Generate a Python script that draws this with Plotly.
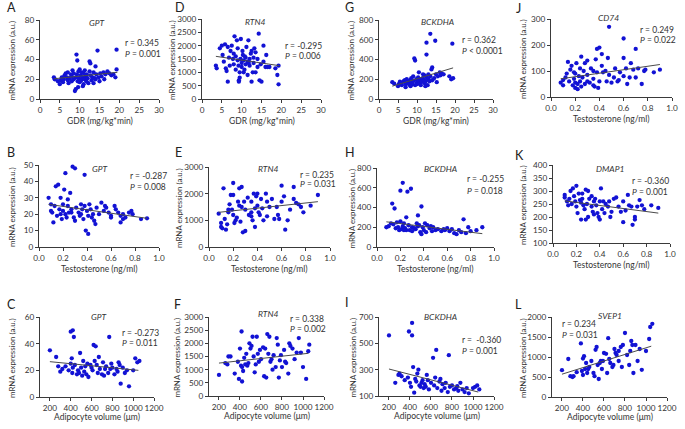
import plotly.graph_objects as go

W, H = 685, 429
FONT = "Lato"
DOT = "#1212d4"
AX = "#3a3a3a"

# ---------------- data ----------------
# A: GDR vs GPT
A_pts = [(3.5,22),(3.7,20),(4.5,18),(5,15),(5.2,19),(5.5,22),(5.8,17),(6,20),(6.2,24),(6.5,26),(6.8,22),(7,19),(7,27),(7.2,16),
         (7.5,21),(7.8,25),(8,23),(8,18),(8.2,29),(8.5,20),(8.5,26),(8.8,8),(9,10),(9,22),(9.2,45),(9.3,25),(9.4,39),(9.5,18),
         (9.6,12),(9.7,28),(9.8,21),(10,30),(10,17),(10.2,24),(10.4,19),(10.5,27),(10.7,22),(11,15),(11,26),(11.2,20),(11.5,23),
         (11.7,18),(11.8,25),(12,21),(12.2,16),(12.5,38),(12.5,28),(12.7,36),(12.8,24),(13,19),(13.2,22),(13.5,16),(13.5,27),
         (14,33),(14,20),(14.2,25),(14.5,49),(14.8,22),(15,18),(15.2,26),(15.5,23),(16,27),(16.2,20),(16.5,25),(17,28),(17.5,26),
         (18,24),(18.5,25),(19,22),(19.3,30),(19.3,50),(11.3,29),(10.8,13),(13.8,21)]
A_fit_x, A_fit_y = [3.5, 19.5], [20.5, 27]

# D: GDR vs RTN4
D_pts = [(3.5,1250),(3.7,1150),(4.5,1900),(5,2000),(5.2,1650),(5.5,1400),(5.8,2050),(6,1150),(6.2,1050),(6.5,650),(6.5,1950),
         (6.8,1550),(7,1250),(7.2,1800),(7.5,2000),(7.8,1500),(8,1300),(8,1700),(8.2,2350),(8.5,1600),(8.5,1100),(8.8,2200),
         (9,1900),(9,1450),(9.2,1250),(9.3,700),(9.3,650),(9.5,800),(9.5,1000),(9.7,1500),(9.8,2250),(10,1350),(10,1200),
         (10.2,1800),(10.3,1650),(10.5,1450),(10.5,1000),(10.7,1100),(11,1550),(11,1300),(11.2,1950),(11.5,900),(11.5,1400),
         (11.7,2200),(12,1500),(12,1250),(12.3,1700),(12.5,650),(12.5,1800),(12.8,1000),(13,1550),(13,1350),(13.2,1900),
         (13.5,1000),(13.5,1750),(14,1200),(14,1500),(14.3,2450),(14.5,700),(14.8,1300),(15,650),(15.5,2000),(15.5,1400),
         (16,1200),(16.2,1650),(16.5,1200),(17,1200),(18.5,1150),(19,900),(19.3,1250),(19.3,550),(11.8,1350),(10.8,1600)]
D_fit_x, D_fit_y = [3.5, 19.5], [1600, 1250]

# G: GDR vs BCKDHA
G_pts = [(3.5,170),(4,155),(5,130),(5.2,150),(5.5,175),(6,165),(6,140),(6.5,180),(7,150),(7,120),(7.3,200),(7.5,160),(7.8,175),
         (8,145),(8.2,190),(8.5,210),(8.5,165),(8.8,150),(9,180),(9,230),(9.3,410),(9.5,390),(9.5,140),(9.8,200),(10,170),
         (10,150),(10.3,220),(10.5,185),(10.5,270),(10.8,160),(11,200),(11,140),(11.3,175),(11.5,210),(11.8,190),(12,240),
         (12,160),(12.3,180),(12.5,570),(12.5,450),(12.5,220),(12.8,140),(13,200),(13,250),(13.3,180),(13.5,660),(13.5,230),
         (13.8,300),(14,320),(14,190),(14.5,210),(14.8,590),(15,250),(15.2,170),(15.5,230),(16,270),(16.2,240),(16.5,260),
         (17,250),(18.5,230),(19,200),(19.3,560),(19.5,210),(12.2,130),(11.6,250),(8.3,130),(6.8,190)]
G_fit_x, G_fit_y = [3.5, 19.5], [130, 315]

# J: Testosterone vs CD74
J_pts = [(0.08,55),(0.1,45),(0.1,65),(0.12,75),(0.13,90),(0.14,135),(0.15,60),(0.16,105),(0.17,120),(0.18,45),(0.19,70),(0.2,35),
         (0.2,55),(0.2,90),(0.21,130),(0.22,30),(0.22,50),(0.23,80),(0.24,110),(0.24,60),(0.25,155),(0.25,40),(0.26,75),(0.27,100),
         (0.28,50),(0.28,130),(0.3,85),(0.3,60),(0.32,55),(0.33,110),(0.35,100),(0.35,70),(0.35,45),(0.36,40),(0.37,145),(0.38,185),
         (0.38,95),(0.39,35),(0.4,190),(0.4,60),(0.42,120),(0.42,165),(0.43,95),(0.45,100),(0.46,60),(0.47,150),(0.48,270),
         (0.48,85),(0.5,55),(0.52,75),(0.53,110),(0.55,60),(0.57,95),(0.6,150),(0.6,225),(0.6,80),(0.62,110),(0.63,50),(0.65,75),
         (0.66,130),(0.68,105),(0.7,185),(0.7,75),(0.72,110),(0.75,50),(0.77,100),(0.78,105),(0.85,95),(0.9,105),(0.3,140),
         (0.19,95),(0.56,65)]
J_fit_x, J_fit_y = [0.08, 0.9], [70, 125]

# B: Testosterone vs GPT
B_pts = [(0.08,30),(0.1,26),(0.1,22),(0.11,21),(0.12,15),(0.13,25),(0.14,37),(0.15,19),(0.16,38),(0.17,23),(0.18,30),(0.18,20),
         (0.19,17),(0.2,26),(0.2,22),(0.21,35),(0.22,20),(0.22,45),(0.23,18),(0.24,25),(0.24,29),(0.25,21),(0.26,33),(0.27,23),
         (0.28,49),(0.29,18),(0.3,48),(0.3,16),(0.31,24),(0.33,21),(0.35,20),(0.35,26),(0.36,23),(0.37,17),(0.38,44),(0.38,25),
         (0.39,10),(0.4,22),(0.41,8),(0.41,19),(0.42,26),(0.43,23),(0.44,18),(0.46,16),(0.47,14),(0.48,24),(0.5,20),(0.52,27),
         (0.54,22),(0.55,25),(0.58,21),(0.6,19),(0.6,18),(0.63,25),(0.64,23),(0.66,21),(0.68,19),(0.68,15),(0.7,17),(0.7,20),
         (0.72,18),(0.75,21),(0.77,22),(0.78,20),(0.85,17),(0.9,17.5),(0.27,21),(0.45,20),(0.34,19),(0.56,24)]
B_fit_x, B_fit_y = [0.08, 0.9], [26, 17.5]

# E: Testosterone vs RTN4
E_pts = [(0.08,1250),(0.1,750),(0.1,900),(0.11,700),(0.12,2200),(0.13,1050),(0.14,650),(0.15,850),(0.16,1300),(0.17,1600),
         (0.18,1950),(0.19,1400),(0.2,1950),(0.2,2400),(0.2,1200),(0.21,900),(0.22,1000),(0.23,1100),(0.24,1700),(0.25,2200),
         (0.25,1550),(0.26,950),(0.27,2250),(0.28,550),(0.29,1700),(0.3,600),(0.3,1400),(0.32,1850),(0.33,1200),(0.35,1700),
         (0.35,1300),(0.35,1150),(0.36,1000),(0.37,2000),(0.38,1450),(0.38,750),(0.39,1900),(0.4,2000),(0.4,1550),(0.41,1300),
         (0.42,1200),(0.43,1800),(0.44,1450),(0.45,1000),(0.47,2000),(0.48,1700),(0.48,1150),(0.5,1500),(0.52,1800),(0.54,1050),
         (0.56,1500),(0.58,1050),(0.6,2300),(0.6,1700),(0.62,1900),(0.63,650),(0.65,1000),(0.67,1400),(0.7,1800),(0.7,2250),
         (0.72,1650),(0.74,1600),(0.76,1500),(0.78,1300),(0.84,1550),(0.9,1950),(0.57,1200),(0.27,1500),(0.16,1400)]
E_fit_x, E_fit_y = [0.08, 0.9], [1300, 1700]

# H: Testosterone vs BCKDHA
H_pts = [(0.08,200),(0.1,210),(0.12,240),(0.13,440),(0.14,230),(0.15,390),(0.16,190),(0.17,250),(0.18,200),(0.19,170),(0.2,260),
         (0.2,570),(0.21,180),(0.22,650),(0.22,210),(0.23,240),(0.24,190),(0.25,300),(0.25,170),(0.26,560),(0.27,220),(0.28,170),
         (0.29,590),(0.3,200),(0.3,160),(0.33,180),(0.34,240),(0.35,320),(0.35,210),(0.36,220),(0.37,150),(0.38,410),(0.38,130),
         (0.39,200),(0.4,170),(0.41,240),(0.42,150),(0.43,220),(0.45,190),(0.47,160),(0.48,200),(0.5,170),(0.52,180),(0.55,160),
         (0.58,170),(0.6,190),(0.62,160),(0.64,180),(0.66,140),(0.68,130),(0.7,170),(0.72,150),(0.74,280),(0.76,140),(0.78,200),
         (0.8,160),(0.85,170),(0.9,200),(0.23,170),(0.32,190),(0.46,210),(0.57,180)]
H_fit_x, H_fit_y = [0.08, 0.9], [255, 135]

# K: Testosterone vs DMAP1
K_pts = [(0.1,285),(0.1,275),(0.12,260),(0.13,245),(0.14,270),(0.15,300),(0.16,250),(0.17,310),(0.18,280),(0.19,260),(0.2,320),
         (0.2,240),(0.21,215),(0.22,290),(0.23,265),(0.24,255),(0.24,190),(0.25,270),(0.26,245),(0.27,230),(0.28,305),(0.28,190),
         (0.29,250),(0.3,300),(0.3,200),(0.31,270),(0.33,240),(0.34,220),(0.35,260),(0.35,210),(0.36,270),(0.37,245),(0.38,215),
         (0.39,200),(0.4,260),(0.4,190),(0.41,310),(0.42,230),(0.43,260),(0.44,215),(0.45,250),(0.47,240),(0.48,260),(0.5,220),
         (0.52,270),(0.54,275),(0.56,240),(0.58,220),(0.6,180),(0.6,260),(0.62,225),(0.64,285),(0.65,245),(0.67,240),(0.68,170),
         (0.7,200),(0.7,190),(0.72,240),(0.74,265),(0.76,245),(0.78,230),(0.84,245),(0.9,235),(0.25,290),(0.33,280),(0.49,200)]
K_fit_x, K_fit_y = [0.1, 0.9], [262, 215]

# C: Adipocyte volume vs GPT
C_pts = [(200,35),(260,30),(280,23),(300,19),(320,21),(350,23),(380,20),(400,49),(400,25),(410,29),(415,18),(420,50),(420,22),
         (430,45),(440,24),(460,17),(470,20),(490,33),(500,22),(510,16),(520,27),(530,19),(540,23),(550,17),(560,25),(570,15),
         (600,22),(610,20),(620,39),(630,27),(640,38),(650,24),(660,18),(670,30),(680,21),(700,17),(710,26),(720,16),(740,23),
         (760,18),(770,45),(780,21),(790,25),(800,22),(820,17),(840,21),(860,26),(870,24),(880,10),(900,22),(920,18),(940,20),
         (960,8),(1000,20),(1020,29),(1040,26),(1060,27),(480,18),(590,24),(730,21),(850,19)]
C_fit_x, C_fit_y = [200, 1050], [26.5, 20]

# F: Adipocyte volume vs RTN4
F_pts = [(200,800),(260,1250),(280,1200),(290,1500),(310,1500),(350,850),(380,1300),(390,650),(400,1800),(410,1150),(415,2450),
         (420,1100),(420,550),(430,950),(440,1450),(450,1200),(460,1600),(480,1250),(490,2000),(500,1800),(510,1900),(520,2250),
         (530,1500),(540,900),(550,1200),(560,2250),(570,1600),(580,1300),(600,1400),(620,1850),(630,750),(640,1800),(650,700),
         (660,2350),(670,1600),(680,2250),(690,1300),(700,1400),(720,1550),(740,1100),(750,2200),(760,1950),(770,700),(780,1350),
         (790,1550),(800,1100),(820,1750),(840,1250),(860,850),(870,2000),(880,1900),(900,1800),(920,1400),(940,1650),(960,2200),
         (980,1650),(1000,1100),(1030,650),(1050,1700),(1060,1950),(470,1150),(590,1750),(710,1000),(830,1300)]
F_fit_x, F_fit_y = [200, 1050], [1250, 1620]

# I: Adipocyte volume vs BCKDHA
I_pts = [(200,560),(260,200),(290,260),(300,270),(320,250),(350,220),(380,240),(390,590),(400,200),(410,170),(420,655),(420,560),
         (430,320),(440,125),(450,230),(460,210),(480,300),(490,180),(500,170),(510,200),(520,220),(530,160),(540,190),(550,170),
         (560,260),(580,150),(600,200),(620,390),(630,180),(640,240),(650,450),(660,160),(680,210),(700,140),(710,190),(730,160),
         (740,200),(760,130),(770,410),(780,170),(800,180),(820,150),(840,160),(860,140),(880,200),(900,150),(920,130),(940,160),
         (960,120),(1000,160),(1020,170),(1040,180),(1060,150),(470,270),(570,220),(690,230),(850,175)]
I_fit_x, I_fit_y = [200, 1050], [305, 130]

# L: Adipocyte volume vs SVEP1
L_pts = [(200,670),(260,950),(280,520),(300,500),(310,520),(340,620),(380,1340),(390,650),(400,550),(400,960),(410,1020),(420,700),
         (430,850),(440,600),(460,750),(480,900),(500,600),(510,520),(520,1180),(530,1250),(540,800),(550,450),(560,850),(570,900),
         (580,700),(600,1100),(620,1080),(630,600),(640,1470),(650,950),(660,850),(680,750),(700,1200),(710,1100),(720,1050),
         (740,1150),(760,1250),(770,750),(780,1300),(800,1600),(820,1050),(840,800),(860,1400),(870,1300),(880,600),(900,1300),
         (920,900),(940,1200),(960,680),(1000,1150),(1030,1450),(1040,1750),(1060,1830),(450,700),(590,900),(690,800),(850,1150),
         (740,900)]
L_fit_x, L_fit_y = [200, 1050], [570, 1270]

GDR_ticks = [0, 5, 10, 15, 20, 25, 30]
TESTO_ticks = [0.0, 0.2, 0.4, 0.6, 0.8, 1.0]
TESTO_labels = ["0.0", "0.2", "0.4", "0.6", "0.8", "1.0"]
ADIPO_ticks = [200, 400, 600, 800, 1000, 1200]

GDR_title = "GDR (mg/kg*min)"
TESTO_title = "Testosterone (ng/ml)"
ADIPO_title = "Adipocyte volume (μm)"
Y_title = "mRNA expression (a.u.)"

# ---------------- panel specs (layout in pixels) ----------------
gdr = dict(xr=[0, 30], xt=GDR_ticks, xl=[str(v) for v in GDR_ticks], xtitle=GDR_title)
tes = dict(xr=[0, 1.0], xt=TESTO_ticks, xl=TESTO_labels, xtitle=TESTO_title)
adi = dict(xr=[105, 1200], xt=ADIPO_ticks, xl=[str(v) for v in ADIPO_ticks], xtitle=ADIPO_title)

panels = [
    dict(L="A", gene="GPT", pts=A_pts, fx=A_fit_x, fy=A_fit_y, r="r = 0.345", p="= 0.001", xa=gdr,
         yr=[0, 80], yt=[0, 20, 40, 60, 80], box=(40, 159, 20, 99), lp=(5, 7), gp=(97, 23), rp=(123, 43, 54), yx=12),
    dict(L="D", gene="RTN4", pts=D_pts, fx=D_fit_x, fy=D_fit_y, r="r = -0.295", p="= 0.006", xa=gdr,
         yr=[0, 3000], yt=[0, 500, 1000, 1500, 2000, 2500, 3000], box=(202, 321, 19, 99), lp=(173, 7), gp=(255, 22),
         rp=(283, 46, 56), yx=172),
    dict(L="G", gene="BCKDHA", pts=G_pts, fx=G_fit_x, fy=G_fit_y, r="r = 0.362", p="&lt; 0.0001", xa=gdr,
         yr=[0, 800], yt=[0, 200, 400, 600, 800], box=(379, 493, 20, 99), lp=(343, 7), gp=(437, 22),
         rp=(460, 40, 51), yx=351),
    dict(L="J", gene="CD74", pts=J_pts, fx=J_fit_x, fy=J_fit_y, r="r = 0.249", p="= 0.022", xa=tes,
         yr=[0, 300], yt=[0, 100, 200, 300], box=(551, 672, 19, 97), lp=(514, 9), gp=(608, 18),
         rp=(638, 30, 40), yx=523),
    dict(L="B", gene="GPT", pts=B_pts, fx=B_fit_x, fy=B_fit_y, r="r = -0.287", p="= 0.008", xa=tes,
         yr=[0, 50], yt=[0, 10, 20, 30, 40, 50], box=(39, 159, 165, 247), lp=(5, 152), gp=(100, 169),
         rp=(128, 176, 187), yx=12),
    dict(L="E", gene="RTN4", pts=E_pts, fx=E_fit_x, fy=E_fit_y, r="r = 0.235", p="= 0.031", xa=tes,
         yr=[0, 3000], yt=[0, 1000, 2000, 3000], box=(209, 330, 167, 247), lp=(173, 152), gp=(268, 169),
         rp=(298, 175, 184), yx=179),
    dict(L="H", gene="BCKDHA", pts=H_pts, fx=H_fit_x, fy=H_fit_y, r="r = -0.255", p="= 0.018", xa=tes,
         yr=[0, 800], yt=[0, 200, 400, 600, 800], box=(377, 494, 168, 247), lp=(343, 152), gp=(440, 169),
         rp=(465, 179, 191), yx=351),
    dict(L="K", gene="DMAP1", pts=K_pts, fx=K_fit_x, fy=K_fit_y, r="r = -0.360", p="= 0.001", xa=tes,
         yr=[100, 400], yt=[100, 150, 200, 250, 300, 350, 400], box=(553, 670, 165, 243), lp=(513, 155), gp=(610, 169),
         rp=(630, 181, 192), yx=523),
    dict(L="C", gene="GPT", pts=C_pts, fx=C_fit_x, fy=C_fit_y, r="r = -0.273", p="= 0.011", xa=adi,
         yr=[0, 60], yt=[0, 20, 40, 60], box=(40, 154, 317, 397), lp=(5, 304), gp=(99, 317),
         rp=(120, 333, 343), yx=12),
    dict(L="F", gene="RTN4", pts=F_pts, fx=F_fit_x, fy=F_fit_y, r="r = 0.338", p="= 0.002", xa=adi,
         yr=[0, 3000], yt=[0, 500, 1000, 1500, 2000, 2500, 3000], box=(209, 324, 317, 396), lp=(172, 304), gp=(268, 314),
         rp=(288, 319, 329), yx=176),
    dict(L="I", gene="BCKDHA", pts=I_pts, fx=I_fit_x, fy=I_fit_y, r="r =  -0.360", p="= 0.001", xa=adi,
         yr=[100, 700], yt=[100, 300, 500, 700], box=(379, 494, 317, 396), lp=(343, 302), gp=(440, 317),
         rp=(460, 340, 351), yx=352),
    dict(L="L", gene="SVEP1", pts=L_pts, fx=L_fit_x, fy=L_fit_y, r="r = 0.234", p="= 0.031", xa=adi,
         yr=[0, 2000], yt=[0, 500, 1000, 1500, 2000], box=(552, 667, 317, 397), lp=(513, 304), gp=(610, 316),
         rp=(560, 324, 335), yx=523),
]


def px(x):
    return x / W


def py(y):
    return 1 - y / H


fig = go.Figure()
layout = dict(width=W, height=H, margin=dict(l=0, r=0, t=0, b=0), paper_bgcolor="white", plot_bgcolor="white",
              showlegend=False, font=dict(family=FONT, color="#333"))
annotations = []
TF = 8.2
LF = 8.5
YF = 7.9

for i, pnl in enumerate(panels):
    n = "" if i == 0 else str(i + 1)
    xref, yref = "x" + n, "y" + n
    x0, x1, y0, y1 = pnl["box"]
    xa = pnl["xa"]
    fig.add_trace(go.Scatter(x=[p[0] for p in pnl["pts"]], y=[p[1] for p in pnl["pts"]], mode="markers",
                             marker=dict(color=DOT, size=4.3, line=dict(width=0)), xaxis=xref, yaxis=yref,
                             cliponaxis=False))
    fig.add_trace(go.Scatter(x=pnl["fx"], y=pnl["fy"], mode="lines", line=dict(color="#4a4a4a", width=1),
                             xaxis=xref, yaxis=yref))
    common = dict(showgrid=False, zeroline=False, showline=True, linecolor=AX, linewidth=1, ticks="outside",
                  ticklen=3, tickwidth=1, tickcolor=AX, tickfont=dict(size=TF, family=FONT, color="#333"),
                  fixedrange=True, tickangle=0, automargin=False)
    layout["xaxis" + n] = dict(domain=[px(x0), px(x1)], range=xa["xr"], tickvals=xa["xt"], ticktext=xa["xl"],
                               anchor=yref, tickmode="array", **common)
    layout["yaxis" + n] = dict(domain=[py(y1), py(y0)], range=pnl["yr"], tickvals=pnl["yt"], anchor=xref,
                               tickmode="array", **common)
    # panel letter
    annotations.append(dict(text=pnl["L"], x=px(pnl["lp"][0]), y=py(pnl["lp"][1]), xref="paper", yref="paper",
                            xanchor="left", yanchor="middle", showarrow=False, font=dict(size=12.5, color="#222")))
    # gene name
    annotations.append(dict(text="<i>" + pnl["gene"] + "</i>", x=px(pnl["gp"][0]), y=py(pnl["gp"][1]),
                            xref="paper", yref="paper", xanchor="center", yanchor="middle", showarrow=False,
                            font=dict(size=LF, color="#333")))
    # r and P
    rx, ry, pyy = pnl["rp"]
    annotations.append(dict(text=pnl["r"], x=px(rx), y=py(ry), xref="paper", yref="paper", xanchor="left",
                            yanchor="middle", showarrow=False, font=dict(size=LF, color="#333")))
    annotations.append(dict(text="<i>P</i> " + pnl["p"], x=px(rx), y=py(pyy), xref="paper", yref="paper",
                            xanchor="left", yanchor="middle", showarrow=False, font=dict(size=LF, color="#333")))
    # x title
    ty = y1 + (20 if y1 > 300 else 22)
    annotations.append(dict(text=xa["xtitle"], x=px((x0 + x1) / 2), y=py(ty), xref="paper", yref="paper",
                            xanchor="center", yanchor="middle", showarrow=False, font=dict(size=LF, color="#333")))
    # y title
    annotations.append(dict(text=Y_title, x=px(pnl["yx"]), y=py((y0 + y1) / 2 + 1), xref="paper", yref="paper",
                            xanchor="center", yanchor="middle", textangle=-90, showarrow=False,
                            font=dict(size=YF, color="#333")))

layout["annotations"] = annotations
fig.update_layout(**layout)
fig.write_html("out.html", config={"displayModeBar": False, "staticPlot": True})

# remove default page margins so the 685x429 figure fills the window exactly
with open("out.html", "r", encoding="utf-8") as fh:
    html = fh.read()
html = html.replace("<head>", "<head><style>html,body{margin:0;padding:0;overflow:hidden;}</style>", 1)
with open("out.html", "w", encoding="utf-8") as fh:
    fh.write(html)
